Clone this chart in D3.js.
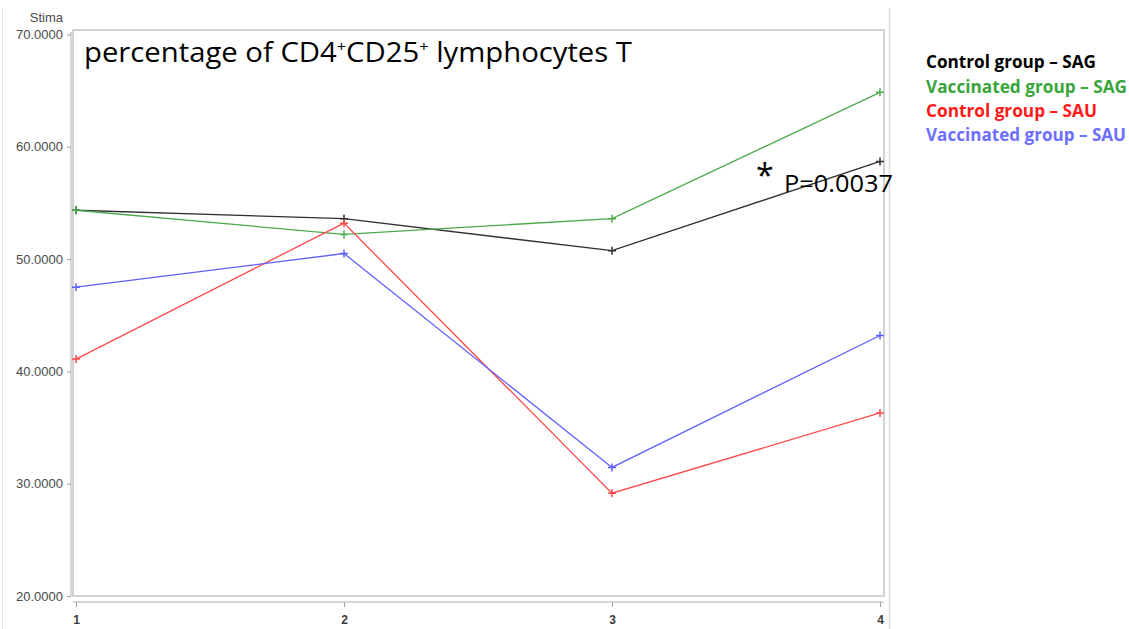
<!DOCTYPE html>
<html><head><meta charset="utf-8">
<script src="https://cdn.jsdelivr.net/npm/d3@7"></script>
<style>body{margin:0;background:#fff}svg{display:block}</style>
</head><body>
<svg id="c" width="1129" height="629"></svg>
<script>
const timepoints = [1, 2, 3, 4];
const seriesNames = ["Control group – SAG", "Vaccinated group – SAG", "Control group – SAU", "Vaccinated group – SAU"];
const controlSAG = [54.35, 53.6, 50.75, 58.7];
const vaccinatedSAG = [54.35, 52.2, 53.6, 64.85];
const controlSAU = [41.1, 53.2, 29.15, 36.3];
const vaccinatedSAU = [47.5, 50.5, 31.45, 43.2];
const yTicks = [20, 30, 40, 50, 60, 70];
const lineColors = ["#303030", "#4caa4c", "#ff4a4a", "#6060ff"];
const legendColors = ["#000000", "#3aa53a", "#ff1a1a", "#6e6eff"];
const allSeries = [controlSAG, vaccinatedSAG, controlSAU, vaccinatedSAU];

const svg = d3.select("#c");
// faint page borders
svg.append("line").attr("x1",2.5).attr("x2",2.5).attr("y1",8).attr("y2",629).attr("stroke","#e6e6e6");
svg.append("line").attr("x1",889.5).attr("x2",889.5).attr("y1",8).attr("y2",629).attr("stroke","#dcdcdc").attr("stroke-width",1.5);

const x = d3.scaleLinear().domain([1, 4]).range([76, 880]);
const y = d3.scaleLinear().domain([20, 70]).range([596, 34.5]);

// frame
svg.append("rect").attr("x",73).attr("y",30).attr("width",811).attr("height",566)
  .attr("fill","none").attr("stroke","#c4c4c4").attr("stroke-width",1.5);

// y axis
const yAxisG = svg.append("g").attr("transform","translate(71,0)");
yAxisG.call(d3.axisLeft(y).tickValues(d3.range(20, 71, 1)).tickSize(3).tickFormat(""));
yAxisG.call(d3.axisLeft(y).tickValues(yTicks).tickSize(4).tickPadding(4).tickFormat(d3.format(".4f")));
yAxisG.selectAll(".domain").attr("stroke","#b0b0b0");
yAxisG.selectAll("line").attr("stroke","#a0a0a0");
yAxisG.selectAll("text").attr("font-family","Liberation Sans, Arial, sans-serif").attr("font-size",13).attr("fill","#4a4a4a");
yAxisG.select(".domain").attr("d","M0,32V596");

svg.append("text").attr("x",63).attr("y",22).attr("text-anchor","end")
  .attr("font-family","Liberation Sans, Arial, sans-serif").attr("font-size",13).attr("fill","#4a4a4a").text("Stima");

// x axis
const xAxisG = svg.append("g").attr("transform","translate(0,602)");
xAxisG.call(d3.axisBottom(x).tickValues(d3.range(1, 4.001, 0.1)).tickSize(4).tickFormat(""));
xAxisG.call(d3.axisBottom(x).tickValues(timepoints).tickSize(5).tickPadding(8).tickFormat(d3.format("d")));
xAxisG.selectAll(".domain").attr("stroke","#b0b0b0").attr("d","M73,0H884");
xAxisG.selectAll("line").attr("stroke","#a0a0a0");
xAxisG.selectAll("text").attr("font-family","Liberation Sans, Arial, sans-serif").attr("font-size",12).attr("font-weight","bold").attr("fill","#3a3a3a");

// lines
const line = d3.line().x((d,i)=>x(timepoints[i])).y(d=>y(d));
allSeries.forEach((s, k) => {
  svg.append("path").datum(s).attr("d", line).attr("fill","none")
    .attr("stroke", lineColors[k]).attr("stroke-width",1.3);
  svg.append("g").selectAll("path").data(s).join("path")
    .attr("transform",(d,i)=>`translate(${x(timepoints[i])},${y(d)})`)
    .attr("d","M-4,0H4M0,-4V4").attr("stroke",lineColors[k]).attr("stroke-width",1.5);
});

// title
const title = svg.append("text").attr("x",84).attr("y",62)
  .attr("font-family","Open Sans, sans-serif").attr("font-size",27).attr("fill","#000")
  .attr("textLength",548).attr("lengthAdjust","spacingAndGlyphs");
title.append("tspan").text("percentage of CD4");
title.append("tspan").attr("dy",-10).attr("font-size",15).text("+");
title.append("tspan").attr("dy",10).text("CD25");
title.append("tspan").attr("dy",-10).attr("font-size",15).text("+");
title.append("tspan").attr("dy",10).text(" lymphocytes T");

// annotation
svg.append("text").attr("x",756).attr("y",187).attr("font-family","Open Sans, sans-serif")
  .attr("font-size",32).attr("fill","#000").text("*");
svg.append("text").attr("x",784).attr("y",192).attr("font-family","Open Sans, sans-serif")
  .attr("font-size",24).attr("fill","#000").attr("textLength",109).attr("lengthAdjust","spacingAndGlyphs").text("P=0.0037");

// legend
const legendW = [170, 201, 171, 200];
const legendY = [68, 93, 117, 141];
seriesNames.forEach((n, k) => {
  svg.append("text").attr("x",926).attr("y",legendY[k])
    .attr("font-family","Open Sans, sans-serif").attr("font-size",17).attr("font-weight","bold")
    .attr("fill",legendColors[k]).attr("textLength",legendW[k]).attr("lengthAdjust","spacingAndGlyphs").text(n);
});
</script>
</body></html>
